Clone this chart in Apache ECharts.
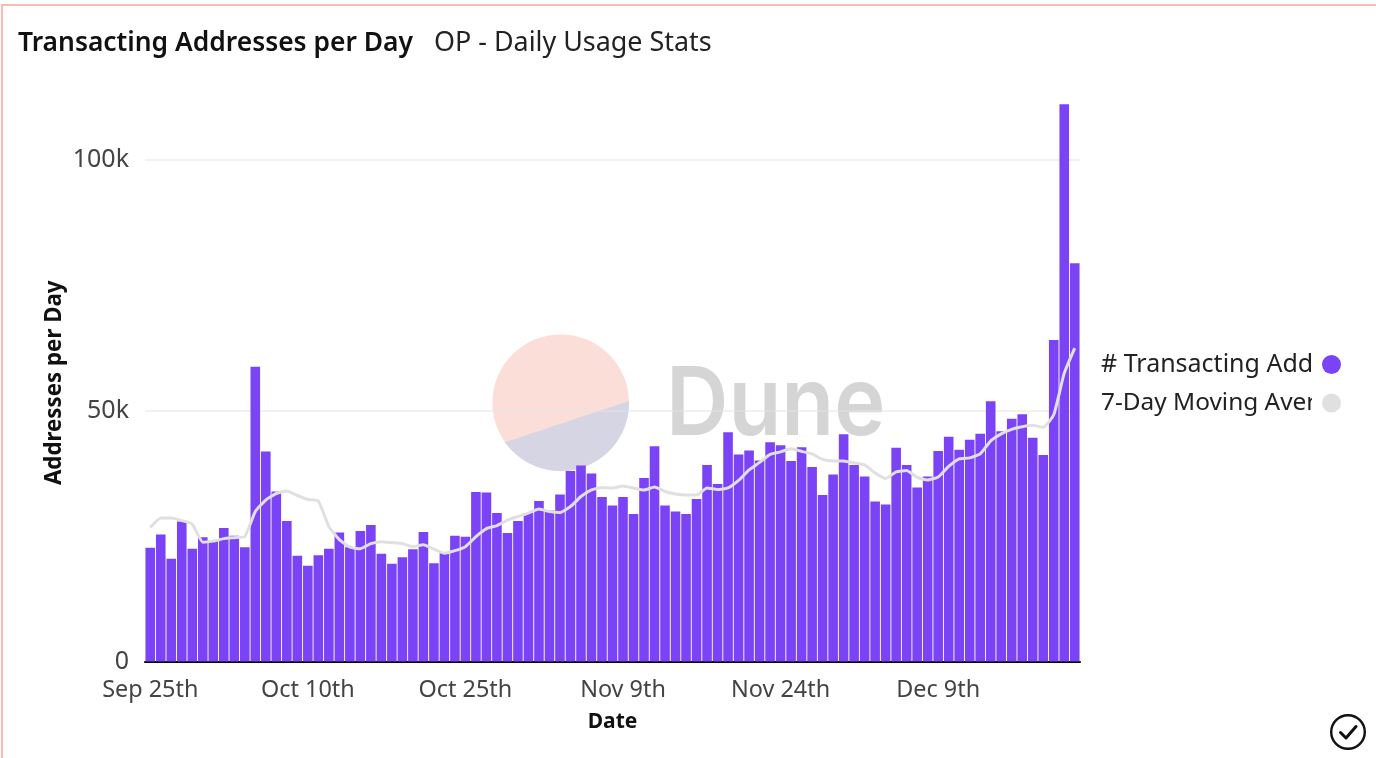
<!DOCTYPE html>
<html>
<head>
<meta charset="utf-8">
<script src="https://cdn.jsdelivr.net/npm/echarts@6/dist/echarts.min.js"></script>
<style>
  html, body { margin: 0; padding: 0; background: #fff; }
  #chart { width: 1376px; height: 758px; }
</style>
</head>
<body>
<div id="chart"></div>
<script>
const FONT = '"Noto Sans", sans-serif';

const dates = [
  'Sep 25th','Sep 26th','Sep 27th','Sep 28th','Sep 29th','Sep 30th',
  'Oct 1st','Oct 2nd','Oct 3rd','Oct 4th','Oct 5th','Oct 6th','Oct 7th','Oct 8th','Oct 9th','Oct 10th',
  'Oct 11th','Oct 12th','Oct 13th','Oct 14th','Oct 15th','Oct 16th','Oct 17th','Oct 18th','Oct 19th','Oct 20th',
  'Oct 21st','Oct 22nd','Oct 23rd','Oct 24th','Oct 25th','Oct 26th','Oct 27th','Oct 28th','Oct 29th','Oct 30th','Oct 31st',
  'Nov 1st','Nov 2nd','Nov 3rd','Nov 4th','Nov 5th','Nov 6th','Nov 7th','Nov 8th','Nov 9th','Nov 10th',
  'Nov 11th','Nov 12th','Nov 13th','Nov 14th','Nov 15th','Nov 16th','Nov 17th','Nov 18th','Nov 19th','Nov 20th',
  'Nov 21st','Nov 22nd','Nov 23rd','Nov 24th','Nov 25th','Nov 26th','Nov 27th','Nov 28th','Nov 29th','Nov 30th',
  'Dec 1st','Dec 2nd','Dec 3rd','Dec 4th','Dec 5th','Dec 6th','Dec 7th','Dec 8th','Dec 9th','Dec 10th',
  'Dec 11th','Dec 12th','Dec 13th','Dec 14th','Dec 15th','Dec 16th','Dec 17th','Dec 18th','Dec 19th','Dec 20th','Dec 21st','Dec 22nd'
];

const transactingAddresses = [
  22700,25300,20500,27900,22500,24800,24000,26600,25100,22800,
  58800,41900,33900,28000,21100,19100,21200,22500,25700,22800,
  26000,27200,21500,19500,20800,22400,25800,19600,21600,25100,
  24900,33800,33700,29600,25600,28000,29600,32000,30100,33300,
  38000,39100,37500,32800,31100,32800,29400,36600,42900,31100,
  29900,29400,32400,39200,35400,45700,41300,42100,40100,43700,
  43100,40000,42700,38800,33200,37300,45300,39200,36900,31900,
  31300,42600,39200,34700,36900,42000,44800,42200,44200,45400,
  51900,45900,48400,49300,44600,41200,64100,111100,79400
];

const movingAverage = [
  26700,28600,28600,28100,27400,23800,24000,24500,24700,24900,
  29900,32200,33500,34000,33100,32300,32000,26900,24300,22800,
  22500,23500,23900,23700,23500,22900,23300,22400,21600,22100,
  22900,24900,26500,27100,28200,28900,29600,30400,29900,29700,
  30900,32900,34200,34700,34600,35000,34600,34200,34800,33900,
  33400,33200,33200,34600,34300,34600,36100,38200,39700,41300,
  41800,42400,41900,41400,40300,40000,40000,39600,39200,37600,
  36500,37800,38100,36700,36200,36800,38900,40400,40600,41400,
  44000,45400,46300,46800,47100,46700,49200,57500,62500
];

const yTicks = { step: 50000, top: 111170 };
const seriesNames = ['# Transacting Addresses', '7-Day Moving Average'];
const legendShown = {
  '# Transacting Addresses': '{a|# Transacting Add}',
  '7-Day Moving Average': '{b|7-Day Moving Aver}'
};

// Lower slice of the round logo: arc points between the two chord ends.
function logoSlice(cx, cy, r, fromDeg, toDeg) {
  const pts = [];
  for (let a = fromDeg; a <= toDeg; a += 2) {
    const t = a * Math.PI / 180;
    pts.push([cx + r * Math.cos(t), cy + r * Math.sin(t)]);
  }
  return pts;
}

const chart = echarts.init(document.getElementById('chart'), null, { renderer: 'canvas' });

chart.setOption({
  animation: false,
  backgroundColor: '#ffffff',
  textStyle: { fontFamily: FONT },
  title: [
    { text: 'Transacting Addresses per Day', left: 18, top: 30, padding: 0,
      textStyle: { fontFamily: FONT, fontSize: 26.4, fontWeight: 600, color: '#111111' } },
    { text: 'OP - Daily Usage Stats', left: 434, top: 30, padding: 0,
      textStyle: { fontFamily: FONT, fontSize: 26.9, fontWeight: 400, color: '#222222' } }
  ],
  grid: { left: 145, right: 296, top: 104, bottom: 96.5, containLabel: false },
  legend: {
    orient: 'vertical', left: 1101, top: 352, align: 'right', padding: 0,
    itemWidth: 19, itemHeight: 19, itemGap: 14, icon: 'circle',
    selectedMode: false,
    data: seriesNames,
    formatter: name => legendShown[name],
    textStyle: {
      fontFamily: FONT, fontSize: 25, color: '#222222',
      rich: {
        a: { width: 216, align: 'left', fontFamily: FONT, fontSize: 25, color: '#222222' },
        b: { width: 216, align: 'left', fontFamily: FONT, fontSize: 24.4, color: '#222222' }
      }
    }
  },
  xAxis: {
    type: 'category', data: dates,
    name: 'Date', nameLocation: 'middle', nameGap: 50,
    nameTextStyle: { fontFamily: FONT, fontSize: 21, fontWeight: 700, color: '#111111' },
    axisTick: { show: false },
    axisLine: { lineStyle: { color: '#000000', width: 2 } },
    axisLabel: { interval: 14, fontFamily: FONT, fontSize: 23.4, color: '#444444', margin: 17 }
  },
  yAxis: {
    type: 'value', min: 0, max: yTicks.top, interval: yTicks.step,
    name: 'Addresses per Day', nameLocation: 'middle', nameGap: 79, nameMoveOverlap: false,
    nameTextStyle: { fontFamily: FONT, fontSize: 22.3, fontWeight: 700, color: '#111111' },
    axisLine: { show: false }, axisTick: { show: false },
    splitLine: { show: true, showMaxLine: false, lineStyle: { color: 'rgba(225,225,235,0.5)', width: 2 } },
    axisLabel: {
      showMaxLabel: false, fontFamily: FONT, fontSize: 25, color: '#444444', margin: 16,
      formatter: v => (v === 0 ? '0' : (v / 1000) + 'k')
    }
  },
  series: [
    {
      name: seriesNames[0], type: 'bar', data: transactingAddresses,
      barWidth: 9.6, itemStyle: { color: '#7a43f6' }, z: 2
    },
    {
      name: seriesNames[1], type: 'line', data: movingAverage,
      showSymbol: false, symbol: 'none', smooth: 0.15,
      lineStyle: { color: '#e0e0e0', width: 3 }, itemStyle: { color: '#e0e0e0' }, z: 3
    }
  ],
  graphic: [
    // frame lines along the top and left edge
    { type: 'rect', shape: { x: 1, y: 4, width: 1375, height: 2 }, style: { fill: '#ffb9b4' }, silent: true },
    { type: 'rect', shape: { x: 1, y: 4, width: 2, height: 754 }, style: { fill: '#ffb9b4' }, silent: true },
    // brand watermark
    { type: 'circle', shape: { cx: 560.7, cy: 402.7, r: 68.3 }, style: { fill: '#fcded8' }, z: -1, silent: true },
    { type: 'polygon', shape: { points: logoSlice(560.7, 402.7, 68.3, -1.4, 145.4) }, style: { fill: '#d5d5e3' }, z: -1, silent: true },
    { type: 'text', x: 666, y: 359, scaleX: 0.91, z: -1, silent: true,
      style: { text: 'Dune', fontFamily: 'Inter, sans-serif', fontSize: 95, fontWeight: 600, fill: '#d5d5d5' } },
    // covers the tail of the long legend labels
    { type: 'rect', shape: { x: 1312, y: 345, width: 9, height: 75 }, style: { fill: '#ffffff' }, z: 100, silent: true },
    // status badge
    { type: 'circle', shape: { cx: 1348, cy: 732, r: 16.8 }, style: { fill: 'none', stroke: '#111111', lineWidth: 2.4 }, silent: true },
    { type: 'polyline', shape: { points: [[1340.5, 732.5], [1346, 738], [1356, 726.5]] },
      style: { fill: 'none', stroke: '#111111', lineWidth: 3, lineCap: 'round', lineJoin: 'round' }, silent: true }
  ]
});
</script>
</body>
</html>
